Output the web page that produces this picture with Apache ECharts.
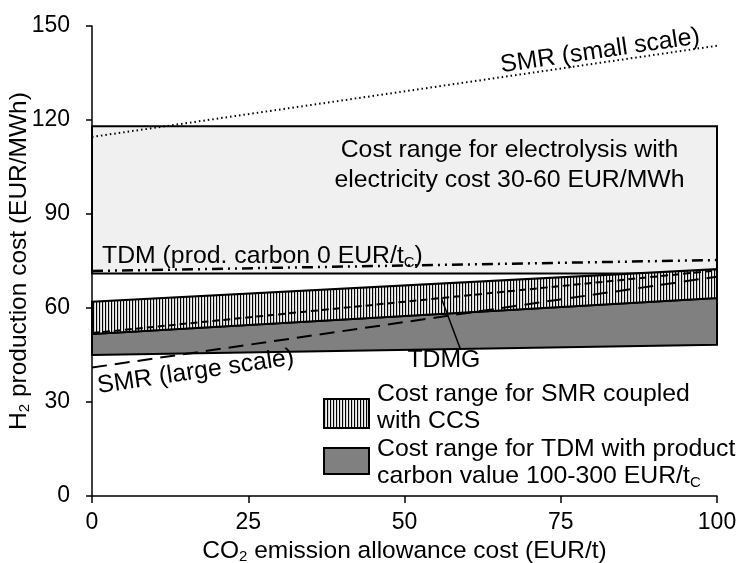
<!DOCTYPE html>
<html>
<head>
<meta charset="utf-8">
<script src="https://cdn.jsdelivr.net/npm/echarts@6/dist/echarts.min.js"></script>
<style>
  html, body { margin: 0; padding: 0; background: #fff; }
  #chart { width: 738px; height: 563px; }
</style>
</head>
<body>
<div id="chart"></div>
<script>
// CO2 emission allowance cost, EUR/t (edges of the scenario range)
const allowanceCost = [0, 100];

// Cost ranges, EUR/MWh: lower and upper edge at each allowance cost
const electrolysisLow = [71, 71];
const electrolysisHigh = [118, 118];
const smrCcsLow = [51.7, 63.2];
const smrCcsHigh = [62, 72.4];
const tdmCarbonLow = [45, 48.3];
const tdmCarbonHigh = [51.7, 63.2];

// Single-process production cost lines, EUR/MWh
const smrSmallScale = [114.6, 143.7];
const smrLargeScale = [41, 70];
const tdmZeroCarbon = [71.8, 75.3];
const tdmg = [52, 72];

// Legend entries
const legendLabels = [
  'Cost range for SMR coupled\nwith CCS',
  'Cost range for TDM with product\ncarbon value 100-300 EUR/t{sub|C}'
];

const FONT = "'Liberation Sans', Arial, sans-serif";
const FS = 24.8;     // annotation and legend text
const FS_TICK = 23;  // tick labels
const FS_NAME = 24.5;

// Vertical hatching used for the SMR + CCS range
function hatchPattern() {
  const c = document.createElement('canvas');
  c.width = 3; c.height = 4;
  const g = c.getContext('2d');
  g.fillStyle = '#f0f0f0';
  g.fillRect(0, 0, 3, 4);
  g.fillStyle = '#cfcfcf';
  g.fillRect(1, 0, 1, 4);
  g.fillStyle = '#000';
  g.fillRect(0, 0, 1, 4);
  return { image: c, repeat: 'repeat' };
}
const hatch = hatchPattern();

function subRich(size) {
  return {
    sub: { fontSize: 15, fontFamily: FONT, verticalAlign: 'bottom', lineHeight: 14, color: '#000' },
    n: { fontSize: size, fontFamily: FONT, lineHeight: 28, color: '#000' }
  };
}

function bandSeries(name, low, high, fill, lineWidth, z) {
  return {
    type: 'custom', name, z, silent: true,
    data: allowanceCost.map((x, i) => [x, low[i], high[i]]),
    renderItem(params, api) {
      if (params.dataIndex !== 0) return;
      const pts = [];
      allowanceCost.forEach((x, i) => pts.push(api.coord([x, low[i]])));
      for (let i = allowanceCost.length - 1; i >= 0; i--) {
        pts.push(api.coord([allowanceCost[i], high[i]]));
      }
      return {
        type: 'polygon',
        shape: { points: pts },
        style: { fill, stroke: '#000', lineWidth, lineJoin: 'miter' }
      };
    }
  };
}

function lineSeries(name, values, lineStyle, z) {
  return {
    type: 'line', name, z, silent: true,
    data: allowanceCost.map((x, i) => [x, values[i]]),
    showSymbol: false, symbol: 'none',
    lineStyle: Object.assign({ color: '#000', width: 2 }, lineStyle)
  };
}

// Text annotations placed in data coordinates
const notes = {
  type: 'custom', name: 'notes', z: 10, silent: true,
  data: [[0, 0]],
  renderItem(params, api) {
    const txt = (pos, text, extra) => {
      const p = api.coord(pos);
      return {
        type: 'text', x: p[0], y: p[1], rotation: extra.rotation || 0,
        style: Object.assign({
          text, fill: '#000', fontSize: FS, fontFamily: FONT,
          align: 'center', verticalAlign: 'middle', rich: subRich(FS)
        }, extra.style || {})
      };
    };
    const a = api.coord([55.9, 63.1]);
    const b = api.coord([59.0, 46.6]);
    return {
      type: 'group',
      children: [
        txt([66.8, 105.6], 'Cost range for electrolysis with\nelectricity cost 30-60 EUR/MWh', { style: { lineHeight: 30 } }),
        txt([1.6, 76.6], '{n|TDM (prod. carbon 0 EUR/t}{sub|C}{n|)}', { style: { align: 'left' } }),
        txt([81.3, 142], 'SMR (small scale)', { rotation: 0.145 }),
        txt([16.6, 39.6], 'SMR (large scale)', { rotation: 0.145 }),
        txt([56.3, 43.4], 'TDMG', {}),
        { type: 'line', shape: { x1: a[0], y1: a[1], x2: b[0], y2: b[1] }, style: { stroke: '#000', lineWidth: 1.5 } }
      ]
    };
  }
};

const chart = echarts.init(document.getElementById('chart'), null, { renderer: 'canvas' });

const legendX = 323, legendTop = 398;
const option = {
  animation: false,
  backgroundColor: '#fff',
  grid: { left: 92, right: 21, top: 26, bottom: 67, containLabel: false, outerBoundsMode: 'none' },
  xAxis: {
    type: 'value', min: 0, max: 100, interval: 25,
    name: 'CO{sub|2} emission allowance cost (EUR/t)',
    nameLocation: 'middle', nameGap: 41,
    nameTextStyle: { fontSize: FS_NAME, fontFamily: FONT, color: '#000', rich: subRich(FS_NAME) },
    axisLine: { show: true, onZero: false, lineStyle: { color: '#000', width: 1.5 } },
    axisTick: { show: true, length: 7, lineStyle: { color: '#000', width: 1.5 } },
    axisLabel: { fontSize: FS_TICK, fontFamily: FONT, color: '#000', margin: 15 },
    splitLine: { show: false }
  },
  yAxis: {
    type: 'value', min: 0, max: 150, interval: 30,
    name: 'H{sub|2} production cost (EUR/MWh)',
    nameLocation: 'middle', nameGap: 60, nameRotate: 90, nameMoveOverlap: false,
    nameTextStyle: { fontSize: FS_NAME, fontFamily: FONT, color: '#000', rich: subRich(FS_NAME) },
    axisLine: { show: true, lineStyle: { color: '#000', width: 1.5 } },
    axisTick: { show: true, length: 6, lineStyle: { color: '#000', width: 1.5 } },
    axisLabel: { fontSize: FS_TICK, fontFamily: FONT, color: '#000', margin: 22, padding: [0, 0, 8, 0] },
    splitLine: { show: false }
  },
  series: [
    bandSeries('Electrolysis', electrolysisLow, electrolysisHigh, '#f0f0f0', 2, 1),
    lineSeries('SMR (small scale)', smrSmallScale, { type: [1.5, 3], width: 2 }, 3),
    lineSeries('TDM (prod. carbon 0)', tdmZeroCarbon, { type: [11, 5, 2, 5, 2, 5], width: 2.5 }, 3),
    bandSeries('TDM carbon value', tdmCarbonLow, tdmCarbonHigh, '#808080', 2, 4),
    bandSeries('SMR with CCS', smrCcsLow, smrCcsHigh, hatch, 2, 5),
    lineSeries('TDMG', tdmg, { type: [7, 4], width: 2 }, 6),
    lineSeries('SMR (large scale)', smrLargeScale, { type: [15, 8], width: 2 }, 6),
    notes
  ],
  graphic: [
    { type: 'rect', left: legendX, top: legendTop, shape: { width: 45, height: 29 },
      style: { fill: hatch, stroke: '#000', lineWidth: 2 }, z: 20 },
    { type: 'text', left: legendX + 54, top: legendTop - 17, z: 20,
      style: { text: legendLabels[0], fill: '#000', fontSize: FS, fontFamily: FONT, lineHeight: 27 } },
    { type: 'rect', left: legendX, top: legendTop + 49, shape: { width: 45, height: 26 },
      style: { fill: '#808080', stroke: '#000', lineWidth: 2 }, z: 20 },
    { type: 'text', left: legendX + 54, top: legendTop + 38, z: 20,
      style: { text: legendLabels[1], fill: '#000', fontSize: FS, fontFamily: FONT, lineHeight: 27,
        rich: { sub: { fontSize: 15, fontFamily: FONT, verticalAlign: 'bottom', lineHeight: 14 } } } }
  ]
};
chart.setOption(option);
</script>
</body>
</html>
